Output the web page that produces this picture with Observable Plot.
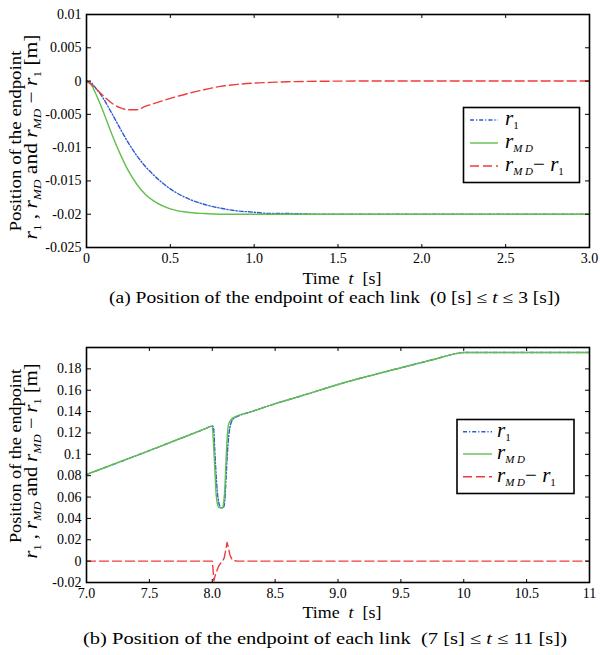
<!DOCTYPE html>
<html><head><meta charset="utf-8">
<script src="https://cdn.jsdelivr.net/npm/d3@7"></script>
<script src="https://cdn.jsdelivr.net/npm/@observablehq/plot@0.6"></script>
<style>
body{margin:0;background:#fff;}
#wrap{position:relative;width:600px;height:655px;}
#wrap svg{position:absolute;left:0;}
</style></head><body><div id="wrap"></div>
<script>
// ---------- data ----------
const seriesNames = ["r1", "rMD", "rMD − r1"];

// Panel (a): 0 <= t <= 3
const tA    = [0, 0.03, 0.05, 0.1, 0.15, 0.2, 0.25, 0.3, 0.35, 0.4, 0.5, 0.6, 0.7, 0.8, 0.9, 1.0, 1.1, 1.2, 1.4, 1.6, 2.0, 2.5, 3.0];
const r1A   = [0, -0.0003, -0.0009, -0.0026, -0.0048, -0.0071, -0.0093, -0.0112, -0.0128, -0.0141, -0.0162, -0.0176, -0.0185, -0.0191, -0.0195, -0.0197, -0.0199, -0.0199, -0.02, -0.02, -0.02, -0.02, -0.02];
const rMDA  = [0, -0.0006, -0.0016, -0.0046, -0.0079, -0.0109, -0.0135, -0.0155, -0.0170, -0.0180, -0.0192, -0.0197, -0.0199, -0.02, -0.02, -0.02, -0.02, -0.02, -0.02, -0.02, -0.02, -0.02, -0.02];
const diffA = [0, -0.0005, -0.0010, -0.0022, -0.0033, -0.0040, -0.0043, -0.0043, -0.0038, -0.0034, -0.0026, -0.0019, -0.0013, -0.0008, -0.0005, -0.0003, -0.0002, -0.0001, -0.00003, 0, 0, 0, 0];

// Panel (b): 7 <= t <= 11
const tB_r1  = [7.0, 7.5, 7.95, 8.0, 8.01, 8.02, 8.03, 8.04, 8.05, 8.06, 8.08, 8.09, 8.10, 8.11, 8.12, 8.13, 8.14, 8.15, 8.17, 8.2, 8.3, 8.54, 8.7, 9.0, 9.5, 9.75, 9.95, 10.0, 10.05, 11.0];
const r1B    = [0.0811, 0.1035, 0.1242, 0.1265, 0.125, 0.104, 0.082, 0.065, 0.056, 0.0515, 0.0497, 0.0505, 0.057, 0.078, 0.100, 0.116, 0.125, 0.1295, 0.1335, 0.1355, 0.1395, 0.1488, 0.1544, 0.1654, 0.181, 0.1885, 0.1945, 0.1953, 0.1953, 0.1953];
const tB_md  = [7.0, 7.5, 7.95, 8.0, 8.01, 8.02, 8.03, 8.04, 8.05, 8.06, 8.08, 8.09, 8.10, 8.11, 8.12, 8.13, 8.15, 8.18, 8.3, 8.54, 8.7, 9.0, 9.5, 9.75, 9.95, 10.0, 10.05, 11.0];
const rMDB   = [0.0811, 0.1035, 0.1242, 0.1265, 0.110, 0.088, 0.064, 0.054, 0.0505, 0.0500, 0.0500, 0.054, 0.068, 0.095, 0.118, 0.128, 0.1325, 0.135, 0.1395, 0.1488, 0.1544, 0.1654, 0.181, 0.1885, 0.1945, 0.1953, 0.1953, 0.1953];
const tB_d   = [7.0, 8.0, 8.005, 8.013, 8.02, 8.03, 8.04, 8.05, 8.065, 8.08, 8.095, 8.105, 8.118, 8.13, 8.14, 8.155, 8.17, 8.2, 11.0];
const diffB  = [0, 0, -0.006, -0.0185, -0.015, -0.011, -0.008, -0.005, -0.002, -0.0005, 0.003, 0.009, 0.0175, 0.012, 0.006, 0.002, 0.0005, 0, 0];

// ticks
const xTicksA  = [0, 0.5, 1, 1.5, 2, 2.5, 3];
const xLabelsA = ["0", "0.5", "1.0", "1.5", "2.0", "2.5", "3.0"];
const yTicksA  = [0.01, 0.005, 0, -0.005, -0.01, -0.015, -0.02, -0.025];
const yLabelsA = ["0.01", "0.005", "0", "-0.005", "-0.01", "-0.015", "-0.02", "-0.025"];
const xTicksB  = [7, 7.5, 8, 8.5, 9, 9.5, 10, 10.5, 11];
const xLabelsB = ["7.0", "7.5", "8.0", "8.5", "9.0", "9.5", "10", "10.5", "11"];
const yTicksB  = [0.18, 0.16, 0.14, 0.12, 0.1, 0.08, 0.06, 0.04, 0.02, 0, -0.02];
const yLabelsB = ["0.18", "0.16", "0.14", "0.12", "0.1", "0.08", "0.06", "0.04", "0.02", "0", "-0.02"];

const captionA = ["(a) Position of the endpoint of each link  (0 [s] ≤ ", "t", " ≤ 3 [s])"];
const captionB = ["(b) Position of the endpoint of each link  (7 [s] ≤ ", "t", " ≤ 11 [s])"];

// ---------- style ----------
const SERIF = "'Liberation Serif','Times New Roman',serif";
const BLUE = "#2b5bd3", GREEN = "#62bf4c", RED = "#f23a3a";
const styles = {
  "r1": {stroke: BLUE, strokeDasharray: "4,2,1.2,2"},
  "rMD": {stroke: GREEN, strokeDasharray: null},
  "rMD − r1": {stroke: RED, strokeDasharray: "9,4"}
};

function rows(ts, vs) { return ts.map((t, i) => ({t, v: vs[i]})); }

function axes(xt, xl, yt, yl) {
  const xm = new Map(xt.map((d, i) => [d, xl[i]]));
  const ym = new Map(yt.map((d, i) => [d, yl[i]]));
  const tickOpts = {tickSize: 4, fill: "none", label: null, stroke: "#000", strokeWidth: 1};
  return [
    Plot.axisX(xt, {anchor: "bottom", tickSize: 0, tickPadding: 6, tickFormat: d => xm.get(d), label: null, fontSize: 14}),
    Plot.axisY(yt, {anchor: "left", tickSize: 0, tickPadding: 5, tickFormat: d => ym.get(d), label: null, fontSize: 14}),
    Plot.axisX(xt, {anchor: "top", frameAnchor: "bottom", ...tickOpts}),
    Plot.axisX(xt, {anchor: "bottom", frameAnchor: "top", ...tickOpts}),
    Plot.axisY(yt, {anchor: "right", frameAnchor: "left", ...tickOpts}),
    Plot.axisY(yt, {anchor: "left", frameAnchor: "right", ...tickOpts})
  ];
}

function lineMark(data, name, curve) {
  const s = styles[name];
  return Plot.line(data, {x: "t", y: "v", stroke: s.stroke, strokeWidth: 1.4,
    strokeDasharray: s.strokeDasharray, curve});
}

// math label helper: parts = [[text, kind]] kind: "r" (italic main), "sub", "subit", "n" (normal)
function mathText(textSel, parts, mainSize, subSize) {
  let shifted = false;
  parts.forEach(([txt, kind]) => {
    const ts = textSel.append("tspan").text(txt);
    const isSub = kind === "sub" || kind === "subit";
    if (isSub && !shifted) { ts.attr("dy", subSize * 0.35); shifted = true; }
    if (!isSub && shifted) { ts.attr("dy", -subSize * 0.35); shifted = false; }
    ts.attr("font-size", isSub ? subSize : mainSize);
    if (kind === "r" || kind === "subit") ts.attr("font-style", "italic");
  });
}

const labelParts = [["r", "r"], ["1", "sub"], [" , ", "n"], ["r", "r"], ["MD", "subit"], [" and ", "n"],
  ["r", "r"], ["MD", "subit"], [" − ", "n"], ["r", "r"], ["1", "sub"], [" [m]", "n"]];
const legendParts = {
  "r1": [["r", "r"], ["1", "sub"]],
  "rMD": [["r", "r"], ["M D", "subit"]],
  "rMD − r1": [["r", "r"], ["M D", "subit"], ["− ", "n"], ["r", "r"], ["1", "sub"]]
};

function decorate(svg, cfg) {
  const s = d3.select(svg);
  const g = s.append("g").attr("font-family", SERIF).attr("fill", "#000");
  // y label
  g.append("text").attr("transform", `translate(${cfg.yl1x},${cfg.yl1cy}) rotate(-90)`)
    .attr("text-anchor", "middle").attr("font-size", 17)
    .attr("textLength", cfg.yl1len).attr("lengthAdjust", "spacingAndGlyphs")
    .text("Position of the endpoint");
  const t2 = g.append("text").attr("transform", `translate(${cfg.yl2x},${cfg.yl2cy}) rotate(-90)`)
    .attr("text-anchor", "middle").attr("font-size", 17)
    .attr("textLength", cfg.yl2len).attr("lengthAdjust", "spacingAndGlyphs");
  mathText(t2, labelParts, 18, 11);
  // x label
  const xl = g.append("text").attr("x", cfg.xlx).attr("y", cfg.xly).attr("text-anchor", "middle")
    .attr("font-size", 17).attr("xml:space", "preserve")
    .attr("textLength", 79).attr("lengthAdjust", "spacingAndGlyphs");
  xl.append("tspan").text("Time  ");
  xl.append("tspan").attr("font-style", "italic").text("t");
  xl.append("tspan").text("  [s]");
  // caption
  const cp = g.append("text").attr("x", cfg.capx).attr("y", cfg.capy).attr("text-anchor", "middle")
    .attr("font-size", 16).attr("xml:space", "preserve")
    .attr("textLength", cfg.caplen).attr("lengthAdjust", "spacingAndGlyphs");
  cp.append("tspan").text(cfg.caption[0]);
  cp.append("tspan").attr("font-style", "italic").text(cfg.caption[1]);
  cp.append("tspan").text(cfg.caption[2]);
  // legend
  const L = cfg.legend;
  const lg = s.append("g").attr("font-family", SERIF).attr("text-anchor", "start");
  lg.append("rect").attr("x", L.x).attr("y", L.y).attr("width", L.w).attr("height", L.h)
    .attr("fill", "#fff").attr("stroke", "#000").attr("stroke-width", 1.6);
  seriesNames.forEach((name, i) => {
    const y = L.rowY[i];
    lg.append("line").attr("x1", L.lx1).attr("x2", L.lx2).attr("y1", y).attr("y2", y)
      .attr("stroke", styles[name].stroke).attr("stroke-width", 1.4)
      .attr("stroke-dasharray", styles[name].strokeDasharray);
    const tx = lg.append("text").attr("x", L.tx).attr("y", y + 5).attr("fill", "#000")
      .attr("text-anchor", "start").attr("xml:space", "preserve");
    mathText(tx, legendParts[name], 21, 11);
  });
}

const wrap = document.getElementById("wrap");

// ---------- panel (a) ----------
const plotA = Plot.plot({
  width: 600, height: 320,
  marginLeft: 86, marginRight: 11, marginTop: 14, marginBottom: 73,
  style: {fontFamily: SERIF, fontSize: "14px", color: "#000", background: "transparent"},
  x: {domain: [0, 3]},
  y: {domain: [-0.025, 0.01]},
  marks: [
    lineMark(rows(tA, r1A), "r1", "monotone-x"),
    lineMark(rows(tA, rMDA), "rMD", "monotone-x"),
    lineMark(rows(tA, diffA), "rMD − r1", "monotone-x"),
    Plot.frame({stroke: "#000", strokeWidth: 1.6}),
    ...axes(xTicksA, xLabelsA, yTicksA, yLabelsA)
  ]
});
plotA.style.top = "0px";
wrap.appendChild(plotA);
decorate(plotA, {
  yl1x: 21, yl1cy: 141, yl1len: 181,
  yl2x: 37, yl2cy: 137, yl2len: 205,
  xlx: 342, xly: 284,
  capx: 334.5, capy: 303, caplen: 451, caption: captionA,
  legend: {x: 463.5, y: 107.5, w: 116, h: 75, rowY: [120, 143, 166], lx1: 470, lx2: 498, tx: 505}
});

// ---------- panel (b) ----------
const plotB = Plot.plot({
  width: 600, height: 335,
  marginLeft: 86, marginRight: 11, marginTop: 27, marginBottom: 73,
  style: {fontFamily: SERIF, fontSize: "14px", color: "#000", background: "transparent"},
  x: {domain: [7, 11]},
  y: {domain: [-0.02, 0.2]},
  marks: [
    lineMark(rows(tB_r1, r1B), "r1", "monotone-x"),
    lineMark(rows(tB_md, rMDB), "rMD", "monotone-x"),
    lineMark(rows(tB_d, diffB), "rMD − r1", "linear"),
    Plot.frame({stroke: "#000", strokeWidth: 1.6}),
    ...axes(xTicksB, xLabelsB, yTicksB, yLabelsB)
  ]
});
plotB.style.top = "320px";
wrap.appendChild(plotB);
decorate(plotB, {
  yl1x: 21, yl1cy: 136, yl1len: 174,
  yl2x: 37, yl2cy: 141, yl2len: 195,
  xlx: 342, xly: 298,
  capx: 325, capy: 324, caplen: 484, caption: captionB,
  legend: {x: 457, y: 99.5, w: 117, h: 74, rowY: [111.7, 134, 156.7], lx1: 463, lx2: 492, tx: 497}
});
</script></body></html>
